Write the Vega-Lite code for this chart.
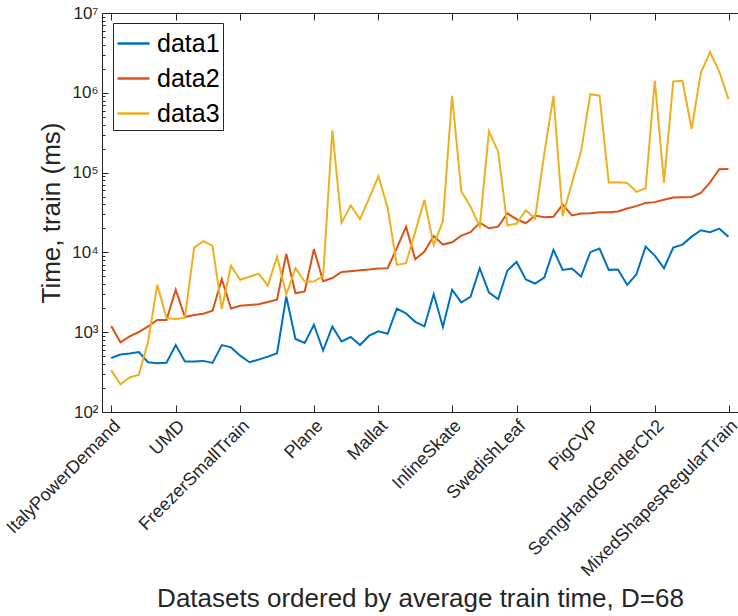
{
  "$schema": "https://vega.github.io/schema/vega-lite/v6.json",
  "width": 636,
  "height": 399,
  "autosize": {"type": "none"},
  "padding": {"left": 102, "top": 13, "right": 0, "bottom": 204},
  "background": "white",
  "config": {
    "view": {"stroke": null},
    "font": "Liberation Sans",
    "axis": {"domainColor": "#262626", "tickColor": "#262626", "labelColor": "#262626", "titleColor": "#262626", "labelFont": "Liberation Sans", "titleFont": "Liberation Sans", "titleFontWeight": "normal", "grid": false, "domainWidth": 1, "tickWidth": 1}
  },
  "data": {"values": [
    {"i":1,"data1":475,"data2":1195,"data3":335},
    {"i":2,"data1":525,"data2":747,"data3":222},
    {"i":3,"data1":540,"data2":887,"data3":271},
    {"i":4,"data1":565,"data2":1005,"data3":294},
    {"i":5,"data1":420,"data2":1180,"data3":760},
    {"i":6,"data1":408,"data2":1420,"data3":3925},
    {"i":7,"data1":415,"data2":1420,"data3":1505},
    {"i":8,"data1":690,"data2":3400,"data3":1462},
    {"i":9,"data1":428,"data2":1550,"data3":1520},
    {"i":10,"data1":428,"data2":1640,"data3":11480},
    {"i":11,"data1":437,"data2":1700,"data3":13860},
    {"i":12,"data1":412,"data2":1856,"data3":12050},
    {"i":13,"data1":690,"data2":4625,"data3":1960},
    {"i":14,"data1":645,"data2":1980,"data3":6810},
    {"i":15,"data1":508,"data2":2143,"data3":4550},
    {"i":16,"data1":420,"data2":2188,"data3":4960},
    {"i":17,"data1":453,"data2":2240,"data3":5400},
    {"i":18,"data1":494,"data2":2385,"data3":3845},
    {"i":19,"data1":545,"data2":2560,"data3":8860},
    {"i":20,"data1":2800,"data2":9570,"data3":2970},
    {"i":21,"data1":822,"data2":3070,"data3":6330},
    {"i":22,"data1":733,"data2":3236,"data3":4315},
    {"i":23,"data1":1240,"data2":11000,"data3":4315},
    {"i":24,"data1":590,"data2":4350,"data3":5030},
    {"i":25,"data1":1175,"data2":4780,"data3":338000},
    {"i":26,"data1":765,"data2":5680,"data3":23580},
    {"i":27,"data1":870,"data2":5820,"data3":38800},
    {"i":28,"data1":690,"data2":5960,"data3":26000},
    {"i":29,"data1":904,"data2":6095,"data3":48000},
    {"i":30,"data1":1024,"data2":6275,"data3":90000},
    {"i":31,"data1":955,"data2":6330,"data3":36200},
    {"i":32,"data1":1970,"data2":11290,"data3":6980},
    {"i":33,"data1":1720,"data2":21010,"data3":7330},
    {"i":34,"data1":1350,"data2":8225,"data3":18200},
    {"i":35,"data1":1182,"data2":10240,"data3":45500},
    {"i":36,"data1":3000,"data2":16000,"data3":12300},
    {"i":37,"data1":1165,"data2":12550,"data3":24600},
    {"i":38,"data1":3400,"data2":13410,"data3":917000},
    {"i":39,"data1":2360,"data2":16220,"data3":58400},
    {"i":40,"data1":2780,"data2":17900,"data3":37400},
    {"i":41,"data1":6330,"data2":23580,"data3":21000},
    {"i":42,"data1":3145,"data2":20070,"data3":328000},
    {"i":43,"data1":2600,"data2":21000,"data3":183000},
    {"i":44,"data1":5930,"data2":30900,"data3":21760},
    {"i":45,"data1":7600,"data2":26000,"data3":22860},
    {"i":46,"data1":4575,"data2":23170,"data3":33800},
    {"i":47,"data1":4075,"data2":29000,"data3":26500},
    {"i":48,"data1":4845,"data2":27600,"data3":172000},
    {"i":49,"data1":10750,"data2":28030,"data3":917000},
    {"i":50,"data1":6040,"data2":39800,"data3":28430},
    {"i":51,"data1":6285,"data2":29000,"data3":73500},
    {"i":52,"data1":4985,"data2":30730,"data3":184600},
    {"i":53,"data1":10060,"data2":30900,"data3":960000},
    {"i":54,"data1":11160,"data2":31900,"data3":920000},
    {"i":55,"data1":6040,"data2":31900,"data3":75000},
    {"i":56,"data1":6095,"data2":32540,"data3":75640},
    {"i":57,"data1":3925,"data2":35480,"data3":74300},
    {"i":58,"data1":5280,"data2":37980,"data3":57400},
    {"i":59,"data1":11820,"data2":41700,"data3":63700},
    {"i":60,"data1":9120,"data2":42650,"data3":1425000},
    {"i":61,"data1":6330,"data2":45700,"data3":74300},
    {"i":62,"data1":11480,"data2":48700,"data3":1384000},
    {"i":63,"data1":12520,"data2":49000,"data3":1413000},
    {"i":64,"data1":15760,"data2":49550,"data3":352000},
    {"i":65,"data1":18950,"data2":55600,"data3":1795000},
    {"i":66,"data1":17890,"data2":75400,"data3":3226000},
    {"i":67,"data1":19840,"data2":110300,"data3":1845000},
    {"i":68,"data1":15760,"data2":111200,"data3":834000}
  ]},
  "transform": [{"fold": ["data1", "data2", "data3"], "as": ["series", "v"]}],
  "layer": [
    {
      "mark": {"type": "line", "strokeWidth": 2},
      "encoding": {
        "x": {"field": "i", "type": "quantitative",
          "scale": {"domain": [0, 69.03], "nice": false, "zero": false},
          "axis": {"values": [1, 8, 15, 23, 30, 38, 45, 53, 60, 68],
            "labelExpr": "{'1':'ItalyPowerDemand','8':'UMD','15':'FreezerSmallTrain','23':'Plane','30':'Mallat','38':'InlineSkate','45':'SwedishLeaf','53':'PigCVP','60':'SemgHandGenderCh2','68':'MixedShapesRegularTrain'}[datum.value]",
            "labelAngle": -45, "labelAlign": "right", "labelBaseline": "middle",
            "labelFontSize": 18, "labelOffset": 6, "labelPadding": 18, "labelFlush": false, "labelOverlap": false, "labelLimit": 0,
            "tickSize": -7,
            "title": "Datasets ordered by average train time, D=68", "titleFontSize": 26, "titleY": 186, "titleBaseline": "middle"}},
        "y": {"field": "v", "type": "quantitative",
          "scale": {"type": "log", "domain": [100, 10000000], "nice": false},
          "axis": {"values": [100, 1000, 10000, 100000, 1000000, 10000000],
            "labelExpr": "'10' + {'2':'²','3':'³','4':'⁴','5':'⁵','6':'⁶','7':'⁷'}[round(log(datum.value)/LN10)]",
            "labelFontSize": 17, "labelPadding": 10, "labelFlush": false, "labelOverlap": false,
            "tickSize": -6,
            "title": "Time, train (ms)", "titleFontSize": 26, "titleX": -51, "titleBaseline": "middle"}},
        "color": {"field": "series", "type": "nominal",
          "scale": {"domain": ["data1", "data2", "data3"], "range": ["#0072BD", "#D95319", "#EDB120"]},
          "legend": {"orient": "none", "legendX": 11, "legendY": 10, "title": null,
            "symbolType": "stroke", "symbolSize": 1024, "symbolStrokeWidth": 2.5,
            "labelFontSize": 25, "labelFont": "Liberation Sans", "labelColor": "#000000",
            "strokeColor": "#262626", "fillColor": "white", "padding": 3, "rowPadding": 4, "labelOffset": 6, "labelLimit": 0}}
      }
    },
    {
      "mark": {"type": "line", "strokeOpacity": 0},
      "encoding": {
        "detail": {"field": "series"},
        "x": {"field": "i", "type": "quantitative",
          "scale": {"domain": [0, 69.03], "nice": false, "zero": false},
          "axis": {"orient": "top", "values": [1, 8, 15, 23, 30, 38, 45, 53, 60, 68], "labels": false, "tickSize": -7, "title": null}},
        "y": {"field": "v", "type": "quantitative",
          "scale": {"type": "log", "domain": [100, 10000000], "nice": false},
          "axis": {"orient": "left", "values": [200,300,400,500,600,700,800,900,2000,3000,4000,5000,6000,7000,8000,9000,20000,30000,40000,50000,60000,70000,80000,90000,200000,300000,400000,500000,600000,700000,800000,900000,2000000,3000000,4000000,5000000,6000000,7000000,8000000,9000000], "labels": false, "domain": false, "tickSize": -3, "title": null}}
      }
    }
  ],
  "resolve": {"axis": {"x": "independent", "y": "independent"}}
}
